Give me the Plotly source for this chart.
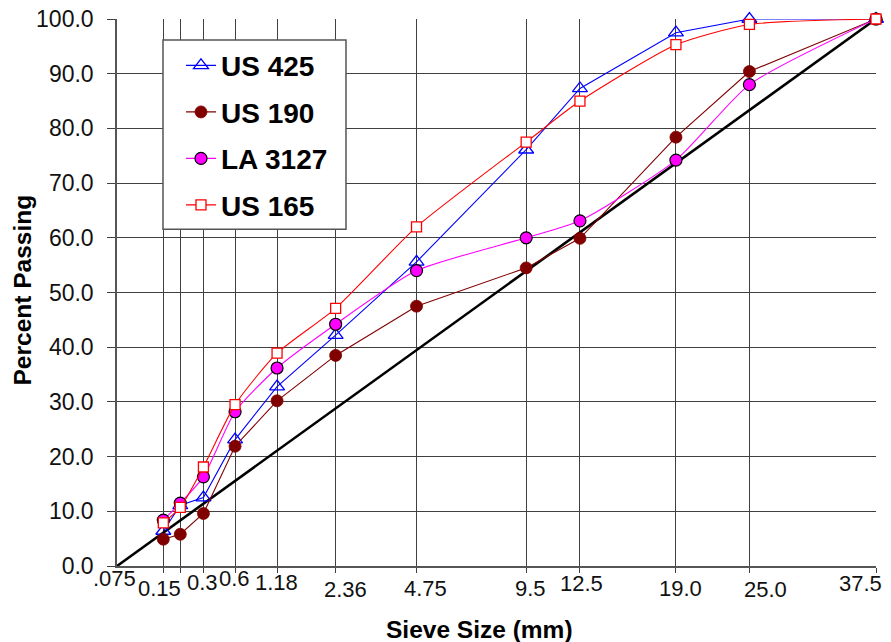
import plotly.graph_objects as go

# Sieve sizes (mm) and the labels written under the axis
sieve_mm = [0.075, 0.15, 0.3, 0.6, 1.18, 2.36, 4.75, 9.5, 12.5, 19.0, 25.0, 37.5]
tick_labels = [".075", "0.15", "0.3", "0.6", "1.18", "2.36", "4.75",
               "9.5", "12.5", "19.0", "25.0", "37.5"]

# Percent passing for each mix
us425 = [6.4, 11.1, 12.5, 23.1, 32.8, 42.2, 55.6, 76.1, 87.3, 97.5, 100.0, 100.0]
us190 = [4.9, 5.8, 9.6, 21.9, 30.2, 38.5, 47.5, 54.5, 59.9, 78.4, 90.4, 100.0]
la3127 = [8.4, 11.5, 16.3, 28.2, 36.2, 44.2, 54.0, 60.0, 63.1, 74.2, 88.0, 100.0]
us165 = [7.9, 10.7, 18.1, 29.5, 38.9, 47.1, 62.0, 77.5, 85.0, 95.3, 99.0, 100.0]

# Maximum density line (0.45 power)
maxden_mm = [0.0, 37.5]
maxden_pct = [0.0, 100.0]

POWER = 0.45


def xp(d):
    return d ** POWER


x_vals = [xp(d) for d in sieve_mm]

# label placement tweaks (pixel offsets from each sieve line, label centre height)
label_dx = [-49, -21, -1, -1, -1, 10, 9, 4, 2, 5, 16, -16]
label_cy = [578, 588, 582, 578, 582, 589, 588, 588, 583, 588, 589, 583]

FONT = "Liberation Sans, Arial, sans-serif"
PLOT_BOTTOM = 566

fig = go.Figure()

fig.add_trace(go.Scatter(
    x=[xp(d) for d in maxden_mm], y=maxden_pct, mode="lines",
    line=dict(color="black", width=2.6), showlegend=False, hoverinfo="skip",
    cliponaxis=False))

series = [
    ("US 425", us425, dict(color="#0000FF", width=1.1, shape="linear"),
     dict(symbol="triangle-up-open", size=13, color="#0000FF", line=dict(width=1.3, color="#0000FF"))),
    ("US 190", us190, dict(color="#800000", width=1.1, shape="linear"),
     dict(symbol="circle", size=12, color="#800000", line=dict(width=0.8, color="#800000"))),
    ("LA 3127", la3127, dict(color="#FF00FF", width=1.1, shape="spline", smoothing=0.6),
     dict(symbol="circle", size=12, color="#FF00FF", line=dict(width=1.2, color="black"))),
    ("US 165", us165, dict(color="#FF0000", width=1.1, shape="spline", smoothing=0.6),
     dict(symbol="square", size=10, color="white", line=dict(width=1.3, color="#FF0000"))),
]

for name, vals, ln, mk in series:
    fig.add_trace(go.Scatter(
        x=x_vals, y=vals, mode="lines+markers", name=name,
        line=ln, marker=mk, legendgroup=name, cliponaxis=False))

annotations = []
for xv, lab, dx, cy in zip(x_vals, tick_labels, label_dx, label_cy):
    annotations.append(dict(
        x=xv, y=0, xref="x", yref="paper", text=lab, showarrow=False,
        xanchor="center", yanchor="middle", xshift=dx, yshift=-(cy - PLOT_BOTTOM),
        font=dict(family=FONT, size=22, color="#111111")))

annotations.append(dict(
    x=0.477, y=-0.117, xref="paper", yref="paper", text="Sieve Size (mm)",
    showarrow=False, xanchor="center", yanchor="middle",
    font=dict(family=FONT, size=24.5, color="black", weight="bold")))
annotations.append(dict(
    x=-0.1245, y=0.5046, xref="paper", yref="paper", text="Percent Passing",
    showarrow=False, xanchor="center", yanchor="middle", textangle=-90,
    font=dict(family=FONT, size=24.5, color="black", weight="bold")))

# framed white panel behind the legend entries
legend_box = dict(
    type="rect", xref="paper", yref="paper",
    x0=0.0606, x1=0.3017, y0=0.6155, y1=0.9616,
    fillcolor="white", line=dict(color="#555555", width=1.5), layer="above")

fig.update_layout(
    width=891, height=642,
    margin=dict(l=117, r=15, t=19, b=76, autoexpand=False),
    paper_bgcolor="white", plot_bgcolor="white",
    showlegend=True,
    legend=dict(
        x=0.0843, y=0.9603, xanchor="left", yanchor="top",
        bgcolor="rgba(0,0,0,0)", borderwidth=0,
        font=dict(family=FONT, size=28, color="black", weight="bold"),
        tracegroupgap=7.1,
    ),
    shapes=[legend_box],
    annotations=annotations,
)

fig.update_xaxes(
    range=[0, xp(37.5)], tickmode="array", tickvals=x_vals,
    showticklabels=False, ticks="outside", ticklen=5, tickcolor="#404040",
    showgrid=True, gridcolor="#404040", gridwidth=1.3, automargin=False,
    showline=True, linecolor="#555555", linewidth=1.5, zeroline=False,
)
fig.update_yaxes(
    range=[0, 100], dtick=10, tick0=0, tickformat=".1f",
    ticks="outside", ticklen=8, tickcolor="#404040", ticklabelstandoff=9,
    tickfont=dict(family=FONT, size=23, color="#111111"), automargin=False,
    showgrid=True, gridcolor="#404040", gridwidth=1.3,
    showline=True, linecolor="#555555", linewidth=1.5, zeroline=False,
)

fig.write_html("out.html")
